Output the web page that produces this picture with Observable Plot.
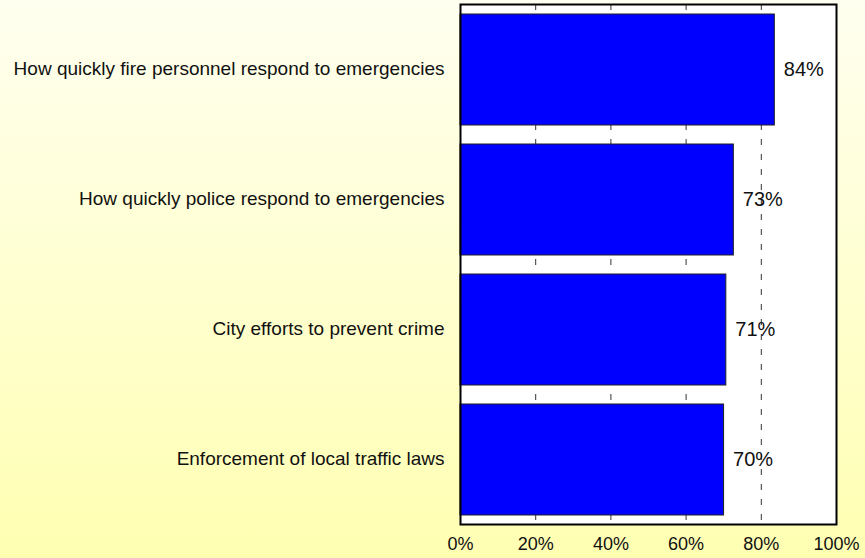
<!DOCTYPE html>
<html>
<head>
<meta charset="utf-8">
<script src="https://cdn.jsdelivr.net/npm/d3@7"></script>
<script src="https://cdn.jsdelivr.net/npm/@observablehq/plot@0.6"></script>
<style>
  html, body { margin: 0; padding: 0; }
  body { width: 865px; height: 558px; overflow: hidden;
         background: linear-gradient(to bottom, #fffff0 0%, #ffffb2 100%); }
  #chart svg { display: block; background: transparent; }
</style>
</head>
<body>
<div id="chart"></div>
<script>
const categories = [
  "How quickly fire personnel respond to emergencies",
  "How quickly police respond to emergencies",
  "City efforts to prevent crime",
  "Enforcement of local traffic laws"
];
const values = [83.6, 72.7, 70.7, 70.1];
const valueLabels = ["84%", "73%", "71%", "70%"];
const xTicks = [0, 20, 40, 60, 80, 100];
const gridTicks = [20, 40, 60, 80];

const data = categories.map((c, i) => ({category: c, value: values[i], label: valueLabels[i]}));

const chart = Plot.plot({
  width: 865,
  height: 558,
  marginLeft: 460,
  marginRight: 29,
  marginTop: 4,
  marginBottom: 34,
  style: {fontFamily: "Arial, 'Liberation Sans', sans-serif", background: "transparent", color: "#111"},
  x: {domain: [0, 100], ticks: xTicks, tickFormat: d => d + "%"},
  y: {domain: categories, paddingInner: 0.15, paddingOuter: 0.075},
  marks: [
    Plot.frame({fill: "white", stroke: "none"}),
    Plot.ruleX(gridTicks, {stroke: "#333", strokeWidth: 1, strokeDasharray: "6,9"}),
    Plot.barX(data, {x: "value", y: "category", fill: "#0000ff", stroke: "#222", strokeWidth: 1}),
    Plot.text(data, {x: "value", y: "category", text: "label", dx: 9, textAnchor: "start", fontSize: 20, fill: "#111"}),
    Plot.axisX({ticks: xTicks, tickFormat: d => d + "%", tickSize: 0, tickPadding: 13, fontSize: 18, label: null, fill: "#111"}),
    Plot.axisY({tickSize: 0, tickPadding: 16, fontSize: 19, label: null, fill: "#111", dy: -1}),
    Plot.frame({stroke: "black", strokeWidth: 2})
  ]
});
document.getElementById("chart").appendChild(chart);
</script>
</body>
</html>
